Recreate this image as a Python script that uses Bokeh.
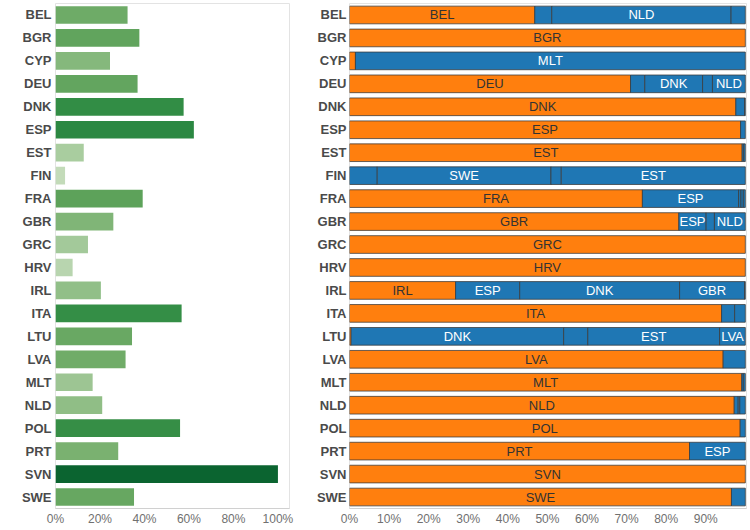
from bokeh.plotting import figure
from bokeh.models import ColumnDataSource, FactorRange, Range1d, FixedTicker, NumeralTickFormatter
from bokeh.layouts import row
from bokeh.embed import file_html
from bokeh.resources import INLINE
from bokeh.core.properties import value

countries = ["BEL", "BGR", "CYP", "DEU", "DNK", "ESP", "EST", "FIN", "FRA", "GBR", "GRC",
             "HRV", "IRL", "ITA", "LTU", "LVA", "MLT", "NLD", "POL", "PRT", "SVN", "SWE"]
left_share = [0.324, 0.377, 0.245, 0.369, 0.576, 0.622, 0.127, 0.043, 0.392, 0.260, 0.146,
              0.077, 0.204, 0.567, 0.344, 0.315, 0.167, 0.210, 0.560, 0.282, 1.000, 0.353]
left_ticks = [0, 0.2, 0.4, 0.6, 0.8, 1.0]
right_ticks = [0, 0.1, 0.2, 0.3, 0.4, 0.5, 0.6, 0.7, 0.8, 0.9]

seg_country = ["BEL", "BEL", "BEL", "BEL",
               "BGR",
               "CYP", "CYP",
               "DEU", "DEU", "DEU", "DEU", "DEU",
               "DNK", "DNK", "DNK",
               "ESP", "ESP",
               "EST", "EST", "EST",
               "FIN", "FIN", "FIN", "FIN",
               "FRA", "FRA", "FRA", "FRA", "FRA",
               "GBR", "GBR", "GBR", "GBR",
               "GRC",
               "HRV",
               "IRL", "IRL", "IRL", "IRL", "IRL",
               "ITA", "ITA", "ITA",
               "LTU", "LTU", "LTU", "LTU", "LTU",
               "LVA", "LVA",
               "MLT", "MLT", "MLT",
               "NLD", "NLD", "NLD", "NLD",
               "POL", "POL",
               "PRT", "PRT",
               "SVN",
               "SWE", "SWE"]
seg_partner = ["BEL", "", "NLD", "",
               "BGR",
               "CYP", "MLT",
               "DEU", "", "DNK", "", "NLD",
               "DNK", "", "",
               "ESP", "",
               "EST", "", "",
               "", "SWE", "", "EST",
               "FRA", "ESP", "", "", "",
               "GBR", "ESP", "", "NLD",
               "GRC",
               "HRV",
               "IRL", "ESP", "DNK", "GBR", "",
               "ITA", "", "",
               "LTU", "DNK", "", "EST", "LVA",
               "LVA", "",
               "MLT", "", "",
               "NLD", "", "", "",
               "POL", "",
               "PRT", "ESP",
               "SVN",
               "SWE", ""]
seg_share = [0.468, 0.043, 0.453, 0.036,
             1.000,
             0.015, 0.985,
             0.710, 0.036, 0.146, 0.025, 0.083,
             0.976, 0.022, 0.002,
             0.988, 0.012,
             0.992, 0.004, 0.004,
             0.070, 0.439, 0.026, 0.465,
             0.740, 0.243, 0.006, 0.006, 0.005,
             0.832, 0.069, 0.021, 0.078,
             1.000,
             1.000,
             0.268, 0.162, 0.404, 0.164, 0.002,
             0.940, 0.033, 0.027,
             0.004, 0.537, 0.061, 0.333, 0.065,
             0.944, 0.056,
             0.991, 0.004, 0.005,
             0.972, 0.010, 0.004, 0.014,
             0.987, 0.013,
             0.859, 0.141,
             1.000,
             0.965, 0.035]

FONT = "Liberation Sans"
ORANGE = "#ff7f0e"
BLUE = "#1f77b4"

# sequential green scale (styling)
stops = [(0.0, (0xd0, 0xe3, 0xc6)), (0.3, (0x74, 0xae, 0x6b)), (0.45, (0x4f, 0x9a, 0x50)),
         (0.6, (0x2d, 0x8a, 0x43)), (1.0, (0x0b, 0x64, 0x30))]


def green(v):
    for (a, ca), (b, cb) in zip(stops[:-1], stops[1:]):
        if v <= b:
            t = (v - a) / (b - a)
            c = [round(ca[i] + t * (cb[i] - ca[i])) for i in range(3)]
            return "#%02x%02x%02x" % tuple(c)
    return "#%02x%02x%02x" % stops[-1][1]


H = 528
factors = countries[::-1]


def base(width, mbl, mbr, xmax, ticks, standoff):
    p = figure(width=width, height=H, y_range=FactorRange(factors=factors),
               x_range=Range1d(0, xmax), output_backend="svg", toolbar_location=None,
               min_border_left=mbl, min_border_right=mbr, min_border_top=3, min_border_bottom=20)
    p.grid.visible = False
    p.outline_line_color = "#e3e3e3"
    p.background_fill_color = "white"
    p.border_fill_color = "white"
    ya = p.yaxis[0]
    ya.axis_line_color = None
    ya.major_tick_line_color = None
    ya.minor_tick_line_color = None
    ya.major_tick_out = 0
    ya.major_tick_in = 0
    ya.major_label_standoff = standoff
    ya.major_label_text_font = FONT
    ya.major_label_text_font_style = "bold"
    ya.major_label_text_font_size = "13px"
    ya.major_label_text_color = "#4a4a4a"
    xa = p.xaxis[0]
    xa.ticker = FixedTicker(ticks=ticks)
    xa.formatter = NumeralTickFormatter(format="0%")
    xa.axis_line_color = "#d0d0d0"
    xa.major_tick_line_color = None
    xa.minor_tick_line_color = None
    xa.major_tick_out = 0
    xa.major_label_standoff = 3
    xa.major_label_text_font = FONT
    xa.major_label_text_font_size = "12px"
    xa.major_label_text_color = "#707070"
    return p


# Left panel
p1 = base(298, 55, 9, 1.052, left_ticks, 4)
src1 = ColumnDataSource(dict(c=countries, v=left_share, col=[green(v) for v in left_share]))
p1.hbar(y="c", right="v", left=0, height=0.77, source=src1, fill_color="col", line_color=None)

# Right panel
left, right, ctr, cols, tcols, labels = [], [], [], [], [], []
acc = {}
for c, prt, s in zip(seg_country, seg_partner, seg_share):
    l0 = acc.get(c, 0.0)
    r0 = l0 + s
    acc[c] = r0
    left.append(l0)
    right.append(r0)
    ctr.append((l0 + r0) / 2)
    self_ = (prt == c)
    cols.append(ORANGE if self_ else BLUE)
    tcols.append("#333333" if self_ else "white")
    labels.append(prt if (prt and s >= 0.05) else "")

p2 = base(449, 51, 1, 1.003, right_ticks, 3)
src2 = ColumnDataSource(dict(c=seg_country, l=left, r=right, x=ctr, col=cols, tcol=tcols, lab=labels))
p2.hbar(y="c", left="l", right="r", height=0.77, source=src2, fill_color="col",
        line_color="#3a3a3a", line_width=0.9, line_alpha=0.85)
p2.text(x="x", y="c", text="lab", source=src2, text_align="center", text_baseline="middle",
        text_font=value(FONT), text_font_size="13px", text_color="tcol")

layout = row(p1, p2)
open("out.html", "w").write(file_html(layout, INLINE))
